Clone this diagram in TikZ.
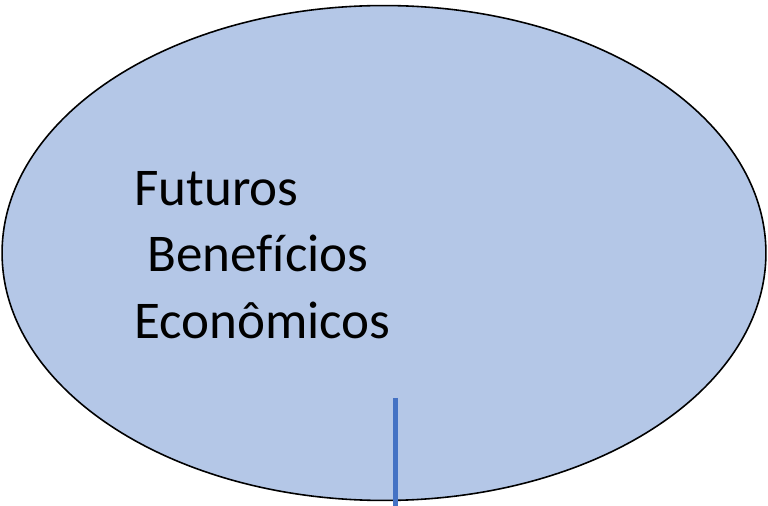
\documentclass[tikz,border=0pt]{standalone}
\usepackage{fontspec}
\setmainfont{Carlito}[Ligatures=NoCommon]
\usepackage{tikz}
\usetikzlibrary{shapes.geometric, positioning}
\definecolor{ovalfill}{RGB}{180, 199, 231}
\definecolor{tickblue}{RGB}{68, 114, 196}

\begin{document}
\begin{tikzpicture}[
    x=0.02cm, y=-0.02cm,
    oval/.style={ellipse, draw=black, fill=ovalfill, line width=0.9pt,
                 minimum width=15.28cm, minimum height=9.9cm, inner sep=0pt},
    label text/.style={font=\fontsize{30.2}{37.8}\selectfont, align=left,
                       inner sep=0pt, text=black},
    tick/.style={tickblue, line width=0.1cm},
  ]
    \useasboundingbox (0,0) rectangle (768,506);

    % the oval
    \node[oval] (benefit) at (384,253) {};

    % its text
    \node[label text, anchor=north west] (benefittext) at (134,171)
      {Futuros\\\hspace*{0.25em}Benefícios\\Econômicos};

    % short stroke at the foot
    \coordinate (ticktop) at (395,398);
    \coordinate (tickfoot) at (395,506);
    \draw[tick] (ticktop) -- (tickfoot);
\end{tikzpicture}
\end{document}
